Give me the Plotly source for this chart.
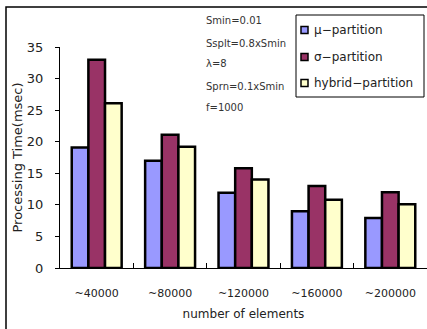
import plotly.graph_objects as go

categories = ["~40000", "~80000", "~120000", "~160000", "~200000"]
mu_vals = [19.1, 17.0, 11.9, 9.0, 7.9]
sigma_vals = [33.0, 21.1, 15.8, 13.0, 12.0]
hybrid_vals = [26.1, 19.2, 14.0, 10.8, 10.1]
series_names = ["μ−partition", "σ−partition", "hybrid−partition"]
colors = ["#9999FF", "#993366", "#FFFFCC"]
params = ["Smin=0.01", "Ssplt=0.8xSmin", "λ=8", "Sprn=0.1xSmin", "f=1000"]

FONT = "DejaVu Sans"
fig = go.Figure()
for i, (name, vals, c) in enumerate(zip(series_names, [mu_vals, sigma_vals, hybrid_vals], colors)):
    fig.add_trace(go.Bar(x=categories, y=vals, name=name, showlegend=False,
                         marker=dict(color=c, line=dict(color="black", width=2.5))))

W, H = 427, 329
l, r, t, b = 60, 0, 47, 61
pw, ph = W - l - r, H - t - b
def px(x): return (x - l) / pw
def py(y): return (H - b - y) / ph

# parameter notes
ann_y = [21, 43, 64, 86, 107]
for txt, yy in zip(params, ann_y):
    fig.add_annotation(text=txt, x=px(204), y=py(yy), xref="paper", yref="paper",
                       xanchor="left", yanchor="middle", showarrow=False,
                       font=dict(family=FONT, size=10, color="#333333"))

# outer frame
fig.add_shape(type="rect", xref="paper", yref="paper",
              x0=px(6), x1=px(440), y0=py(340), y1=py(7),
              line=dict(color="black", width=1.5), fillcolor="rgba(0,0,0,0)")

# legend box
fig.add_shape(type="rect", xref="paper", yref="paper",
              x0=px(296), x1=px(424), y0=py(97), y1=py(15),
              line=dict(color="black", width=1), fillcolor="white")
leg_y = [30, 57, 83]
for name, c, yy in zip(series_names, colors, leg_y):
    fig.add_shape(type="rect", xref="paper", yref="paper",
                  x0=px(301), x1=px(308), y0=py(yy + 3.5), y1=py(yy - 3.5),
                  line=dict(color="black", width=1.5), fillcolor=c)
    fig.add_annotation(text=name, x=px(312), y=py(yy), xref="paper", yref="paper",
                       xanchor="left", yanchor="middle", showarrow=False,
                       font=dict(family=FONT, size=12, color="#222222"))

fig.update_layout(
    width=W, height=H, margin=dict(l=l, r=r, t=t, b=b, autoexpand=False),
    paper_bgcolor="white", plot_bgcolor="white",
    barmode="group", bargap=0.32, bargroupgap=0,
    font=dict(family=FONT, size=12, color="#222222"),
    showlegend=False,
    xaxis=dict(showline=True, linecolor="black", linewidth=1, ticks="inside",
               tickson="boundaries", ticklen=5, tickcolor="black", automargin=False,
               tickfont=dict(size=11), ticklabelstandoff=15,
               title=dict(text="number of elements", font=dict(size=12), standoff=10)),
    yaxis=dict(range=[0, 35], dtick=5, showline=True, linecolor="black", linewidth=1,
               ticks="outside", ticklen=4, tickcolor="black", showgrid=False, zeroline=False,
               automargin=False,
               tickfont=dict(size=13), ticklabelstandoff=9,
               title=dict(text="Processing Time(msec)", font=dict(size=13), standoff=1)),
)
fig.write_html("out.html", config={"displayModeBar": False},
               post_script="document.body.style.margin='0';")
